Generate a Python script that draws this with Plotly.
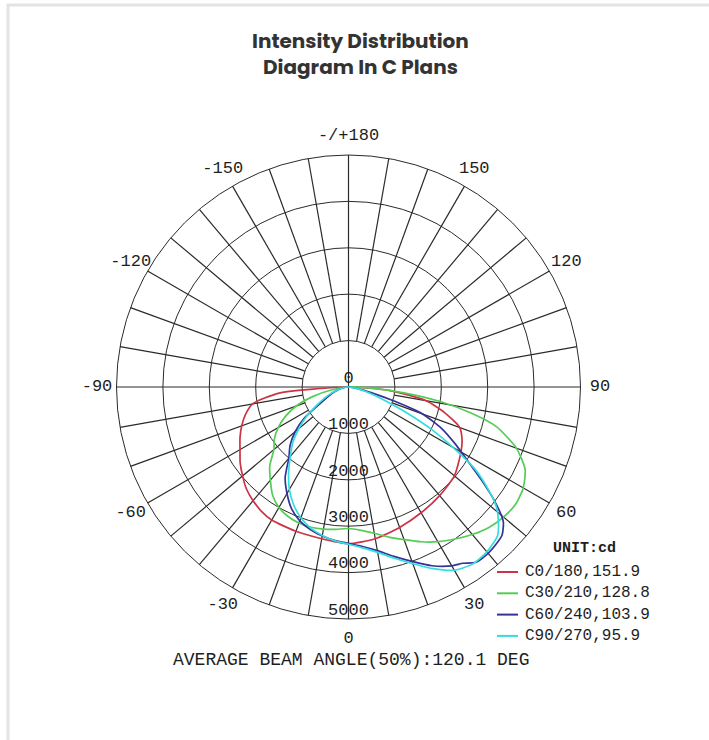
import plotly.graph_objects as go

# ---------------- data ----------------
series_names = ["C0/180,151.9", "C30/210,128.8", "C60/240,103.9", "C90/270,95.9"]
series_colors = ["#cc3344", "#55cc55", "#333399", "#33dddd"]

theta_c0 = [-90, -85, -80, -75, -70, -65, -60, -55, -50, -45, -40, -35, -30, -20, -10,
            0, 10, 20, 30, 40, 50, 60, 65, 70, 75, 80, 85, 90]
r_c0 = [0, 1500, 2100, 2300, 2450, 2580, 2700, 2850, 2980, 3110, 3200, 3270, 3310, 3310, 3320,
        3380, 3320, 3220, 3130, 3055, 2980, 2800, 2700, 2550, 2150, 1700, 900, 0]

theta_c30 = [-90, -80, -75, -70, -65, -60, -55, -50, -45, -40, -35, -30, -25, -20, -15, -10, -5,
             0, 5, 10, 15, 20, 25, 30, 35, 40, 45, 50, 55, 60, 65, 70, 75, 78, 81, 84, 87, 90]
r_c30 = [0, 400, 800, 1200, 1500, 1750, 1950, 2100, 2400, 2620, 2850, 3000, 3080, 3120, 3130, 3110, 3080,
         3050, 3100, 3200, 3350, 3500, 3680, 3850, 4000, 4150, 4280, 4360, 4400, 4350, 4200, 3850, 3300,
         2700, 2000, 1200, 500, 0]

theta_c60 = [-90, -80, -70, -60, -55, -50, -45, -40, -35, -30, -25, -20, -15, -10, -5,
             0, 5, 10, 15, 20, 25, 30, 33, 36, 40, 43, 46, 49, 52, 55, 58, 62, 66, 70, 73, 76, 80, 90]
r_c60 = [0, 150, 350, 700, 1150, 1500, 1780, 2000, 2380, 2650, 2900, 3070, 3180, 3260, 3320,
         3370, 3450, 3580, 3780, 4000, 4250, 4450, 4530, 4670, 4680, 4650, 4600, 4420, 4000, 3500,
         3050, 2600, 2200, 1700, 1000, 500, 200, 0]

theta_c90 = [-90, -80, -70, -60, -55, -50, -45, -40, -35, -30, -25, -20, -15, -10, -5,
             0, 5, 10, 15, 20, 25, 30, 35, 40, 45, 48, 51, 54, 57, 60, 63, 66, 70, 75, 80, 90]
r_c90 = [0, 150, 400, 800, 1100, 1400, 1700, 1950, 2250, 2550, 2800, 3000, 3150, 3250, 3330,
         3390, 3480, 3620, 3820, 4050, 4320, 4560, 4660, 4640, 4540, 4350, 4100, 3700, 3250, 2600,
         2000, 1400, 800, 400, 200, 0]

radial_ticks = [1000, 2000, 3000, 4000, 5000]
radial_labels = ["1000", "2000", "3000", "4000", "5000"]
angle_ticks = [0, 30, 60, 90, 120, 150, 180, 210, 240, 270, 300, 330]
angle_labels = ["0", "30", "60", "90", "120", "150", "-/+180", "-150", "-120", "-90", "-60", "-30"]
spoke_step = 10
r_max = 5000          # outer ring of the diagram
r_axis_max = 5600     # axis range leaves room for the angle labels
r_angle_label = 5420  # angle labels sit just outside the outer ring

title_text = "Intensity Distribution<br>Diagram In C Plans"
unit_text = "UNIT:cd"
footer_text = "AVERAGE BEAM ANGLE(50%):120.1 DEG"

MONO = "Liberation Mono, Courier New, monospace"
INK = "#1e1e1e"
GRID = "#2a2a2a"

W, H = 709, 740
cx, cy, ring_px = 348.5, 387.0, 232.0
rad = ring_px * r_axis_max / r_max


def px(x):
    return x / W


def py(y):
    return 1 - y / H


# ---------------- figure ----------------
fig = go.Figure()

# spokes of the grid (axis decoration): short spokes start at the first ring
sp_r, sp_t = [], []
for a in range(0, 360, spoke_step):
    start = 0 if a % 90 == 0 else radial_ticks[0]
    sp_r += [start, r_max, None]
    sp_t += [a, a, None]
fig.add_trace(go.Scatterpolar(r=sp_r, theta=sp_t, mode="lines",
                              line=dict(color=GRID, width=1.2),
                              hoverinfo="skip", showlegend=False))

# radial labels along the 0 direction
fig.add_trace(go.Scatterpolar(r=[0] + radial_ticks, theta=[0] * (len(radial_ticks) + 1),
                              mode="text", text=["0"] + radial_labels,
                              textposition="top center",
                              textfont=dict(family=MONO, size=17, color=INK),
                              hoverinfo="skip", showlegend=False))

# angle labels around the outside of the diagram
fig.add_trace(go.Scatterpolar(r=[r_angle_label] * len(angle_ticks), theta=angle_ticks,
                              mode="text", text=angle_labels, textposition="middle center",
                              textfont=dict(family=MONO, size=17, color=INK),
                              cliponaxis=False, hoverinfo="skip", showlegend=False))

all_theta = [theta_c0, theta_c30, theta_c60, theta_c90]
all_r = [r_c0, r_c30, r_c60, r_c90]
for name, col, th, rr in zip(series_names, series_colors, all_theta, all_r):
    fig.add_trace(go.Scatterpolar(r=rr, theta=th, mode="lines", name=name, showlegend=False,
                                  line=dict(color=col, width=1.7, shape="spline", smoothing=0.6)))

annotations = [
    dict(text="<b>" + title_text + "</b>", x=px(360), y=py(54),
         font=dict(family="Poppins, Inter, Open Sans, sans-serif", size=20, color="#333333")),
    dict(text="<b>" + unit_text + "</b>", x=px(584), y=py(548),
         font=dict(family=MONO, size=15, color=INK)),
    dict(text=footer_text, x=px(351), y=py(660),
         font=dict(family=MONO, size=18, color=INK)),
]
for a in annotations:
    a.update(xref="paper", yref="paper", showarrow=False, xanchor="center", yanchor="middle",
             align="center")

shapes = [
    dict(type="rect", xref="paper", yref="paper", x0=px(8), x1=1.3, y0=-0.3, y1=py(5),
         line=dict(color="#e3e3e3", width=3)),
]

# legend drawn as key lines + labels
leg_y0, leg_dy = 572, 21.3
for i, (name, col) in enumerate(zip(series_names, series_colors)):
    yy = leg_y0 + i * leg_dy
    shapes.append(dict(type="line", xref="paper", yref="paper", x0=px(497), x1=px(518),
                       y0=py(yy), y1=py(yy), line=dict(color=col, width=2)))
    annotations.append(dict(text=name, x=px(523), y=py(yy), xref="paper", yref="paper",
                            showarrow=False, xanchor="left", yanchor="middle",
                            font=dict(family=MONO, size=16, color=INK)))

fig.update_layout(
    width=W, height=H,
    margin=dict(l=0, r=0, t=0, b=0),
    paper_bgcolor="white",
    showlegend=False,
    polar=dict(
        domain=dict(x=[px(cx - rad), px(cx + rad)], y=[py(cy + rad), py(cy - rad)]),
        bgcolor="rgba(0,0,0,0)",
        radialaxis=dict(range=[0, r_axis_max], tickvals=radial_ticks, showticklabels=False,
                        ticks="", showline=False, gridcolor=GRID, gridwidth=1.2),
        angularaxis=dict(rotation=-90, direction="counterclockwise",
                         tickvals=angle_ticks, showticklabels=False, ticks="",
                         showgrid=False, showline=False),
    ),
    annotations=annotations,
    shapes=shapes,
)

fig.write_html("out.html", config={"displayModeBar": False},
               post_script="document.body.style.margin='0px';")
